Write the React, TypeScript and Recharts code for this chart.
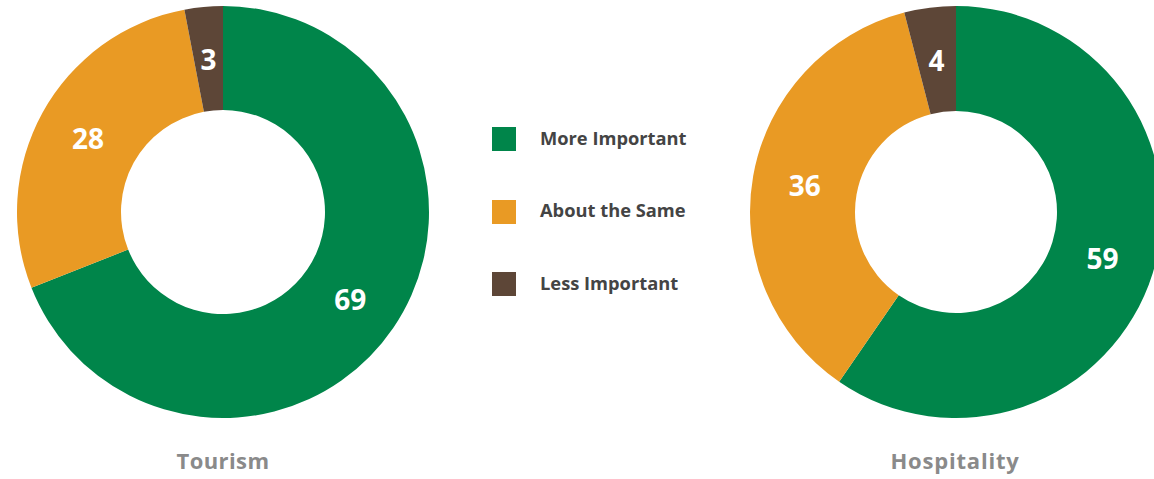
import React from 'react';
import { PieChart, Pie, Cell } from 'recharts';

const categories = ['More Important', 'About the Same', 'Less Important'];
const tourismValues = [69, 28, 3];
const hospitalityValues = [59, 36, 4];
const chartTitles = ['Tourism', 'Hospitality'];
const colors = ['#00854A', '#E99A24', '#5D4637'];

const tourismData = categories.map((name, i) => ({ name, value: tourismValues[i] }));
const hospitalityData = categories.map((name, i) => ({ name, value: hospitalityValues[i] }));

const RAD = Math.PI / 180;
const renderLabel = (props: any) => {
  const { cx, cy, midAngle, innerRadius, outerRadius, value } = props;
  const r = (innerRadius + outerRadius) / 2;
  const x = cx + r * Math.cos(-midAngle * RAD);
  const y = cy + r * Math.sin(-midAngle * RAD);
  return (
    <text
      x={x}
      y={y}
      fill="#ffffff"
      textAnchor="middle"
      dominantBaseline="central"
      style={{ fontFamily: '"Open Sans", sans-serif', fontWeight: 700, fontSize: 28 }}
    >
      {value}
    </text>
  );
};

const font = '"Open Sans", sans-serif';

export default function App() {
  return (
    <div style={{ position: 'absolute', left: 0, top: 0, width: 1154, height: 479, background: '#fff', overflow: 'hidden' }}>
      <PieChart width={1154} height={479} margin={{ top: 0, right: 0, bottom: 0, left: 0 }}>
        <Pie
          data={tourismData}
          dataKey="value"
          cx={223}
          cy={212}
          innerRadius={102}
          outerRadius={206}
          startAngle={90}
          endAngle={-270}
          stroke="none"
          label={renderLabel}
          labelLine={false}
          isAnimationActive={false}
        >
          {tourismData.map((d, i) => (
            <Cell key={d.name} fill={colors[i]} />
          ))}
        </Pie>
        <Pie
          data={hospitalityData}
          dataKey="value"
          cx={956}
          cy={212}
          innerRadius={101}
          outerRadius={206}
          startAngle={90}
          endAngle={-270}
          stroke="none"
          label={renderLabel}
          labelLine={false}
          isAnimationActive={false}
        >
          {hospitalityData.map((d, i) => (
            <Cell key={d.name} fill={colors[i]} />
          ))}
        </Pie>
      </PieChart>
      {categories.map((c, i) => (
        <div key={c} style={{ position: 'absolute', left: 492, top: 127 + i * 72.5, height: 24, display: 'flex', alignItems: 'center' }}>
          <div style={{ width: 24, height: 24, background: colors[i] }} />
          <div style={{ marginLeft: 24, position: 'relative', top: -2, fontFamily: font, fontWeight: 700, fontSize: 18.3, color: '#444444', whiteSpace: 'nowrap' }}>{c}</div>
        </div>
      ))}
      {chartTitles.map((t, i) => (
        <div
          key={t}
          style={{
            position: 'absolute',
            left: (i === 0 ? 223 : 955) - 100,
            width: 200,
            top: 445,
            textAlign: 'center',
            fontFamily: font,
            fontWeight: 700,
            fontSize: 22,
            color: '#8A8A8A',
            letterSpacing: i === 0 ? 0.4 : 0.8,
          }}
        >
          {t}
        </div>
      ))}
    </div>
  );
}
